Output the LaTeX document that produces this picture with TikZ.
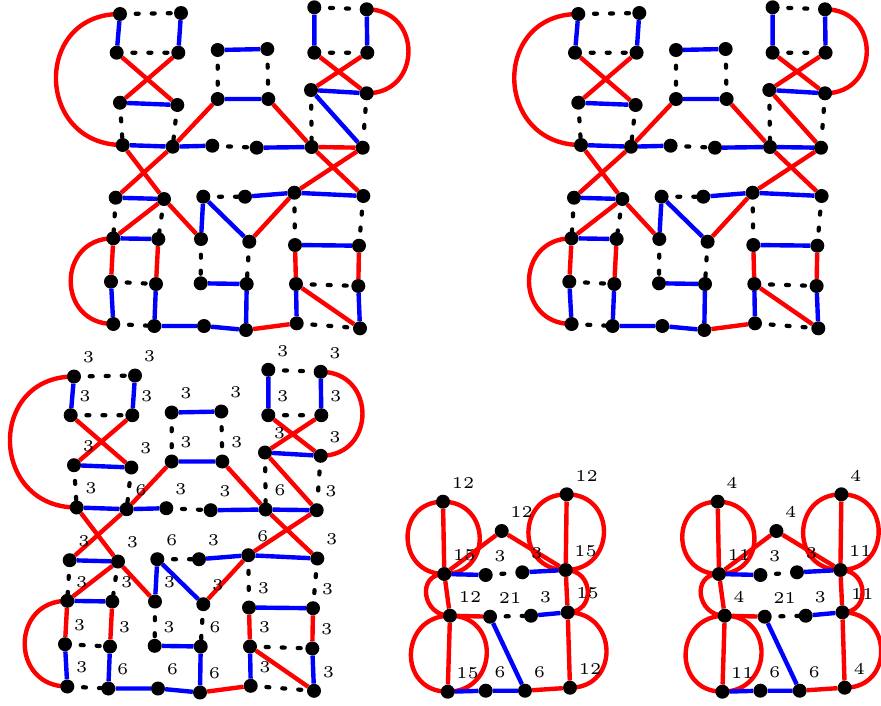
\documentclass[tikz,border=0pt]{standalone}
\usetikzlibrary{backgrounds}
\newcommand\lt[1]{\scalebox{3.3}{\tiny #1}}
\newcommand\bigG[1]{%
\node[vtx,lab=3] (#1A1) at (120,14) {};
\node[vtx,lab=3] (#1A2) at (181,13) {};
\node[vtx,lab=3] (#1A3) at (116.7,52.7) {};
\node[vtx,lab=3] (#1A4) at (178.3,52.7) {};
\node[vtx,lab=3] (#1A5) at (120,102.7) {};
\node[vtx,lab=3] (#1A6) at (177.3,105) {};
\node[vtx,lab=3] (#1A7) at (122.7,145) {};
\node[vtx,lab=6] (#1A8) at (172.7,146.7) {};
\node[vtx,lab=3] (#1A9) at (212.3,145.7) {};
\node[vtx,lab=3] (#1A10) at (256.7,147.7) {};
\node[vtx,lab=6] (#1A11) at (311.7,147) {};
\node[vtx,lab=3] (#1A12) at (362.7,147.7) {};
\node[vtx,lab=3] (#1B1) at (217.7,50) {};
\node[vtx,lab=3] (#1B2) at (267.3,49) {};
\node[vtx,lab=3] (#1B3) at (217.7,99) {};
\node[vtx,lab=3] (#1B4) at (268.3,99) {};
\node[vtx,lab=3] (#1C1) at (314.3,7.3) {};
\node[vtx,lab=3] (#1C2) at (366.7,9.3) {};
\node[vtx,lab=3] (#1C3) at (314.3,52.7) {};
\node[vtx,lab=3] (#1C4) at (367.3,52.7) {};
\node[vtx,lab=3] (#1C5) at (311,90) {};
\node[vtx,lab=3] (#1C6) at (366.7,93.3) {};
\node[vtx,lab=3] (#1D1) at (115.7,197.7) {};
\node[vtx,lab=3] (#1D2) at (164,199) {};
\node[vtx,lab=6] (#1D3) at (203.3,196.7) {};
\node[vtx,lab=3] (#1D4) at (245,196.7) {};
\node[vtx,lab=6] (#1D5) at (294.3,192.7) {};
\node[vtx,lab=3] (#1D6) at (363.3,196) {};
\node[vtx,lab=3] (#1E1) at (113.3,238.3) {};
\node[vtx,lab=3] (#1E2) at (158.3,239) {};
\node[vtx,lab=3] (#1E3) at (201,239) {};
\node[vtx,lab=3] (#1E4) at (249.3,241.7) {};
\node[vtx,lab=3] (#1E5) at (295,245) {};
\node[vtx,lab=3] (#1E6) at (359,245.7) {};
\node[vtx,lab=3] (#1F1) at (111,281.7) {};
\node[vtx,lab=3] (#1F2) at (156,284) {};
\node[vtx,lab=3] (#1F3) at (200.7,283.3) {};
\node[vtx,lab=6] (#1F4) at (246.7,284) {};
\node[vtx,lab=3] (#1F5) at (296,284) {};
\node[vtx,lab=3] (#1F6) at (358.3,286) {};
\node[vtx,lab=3] (#1G1) at (113.3,324) {};
\node[vtx,lab=6] (#1G2) at (154.3,326) {};
\node[vtx,lab=6] (#1G3) at (204,326) {};
\node[vtx,lab=6] (#1G4) at (246,330) {};
\node[vtx,lab=3] (#1G5) at (296.7,323.3) {};
\node[vtx,lab=3] (#1G6) at (360,328.3) {};
\begin{pgfonlayer}{background}
\draw[de] (#1A1)--(#1A2) (#1A3)--(#1A4) (#1A5)--(#1A7) (#1A6)--(#1A8) (#1A9)--(#1A10)
  (#1B1)--(#1B3) (#1B2)--(#1B4) (#1C1)--(#1C2) (#1C3)--(#1C4) (#1C5)--(#1A11) (#1C6)--(#1A12)
  (#1D1)--(#1E1) (#1D2)--(#1E2) (#1D3)--(#1D4) (#1D5)--(#1E5) (#1D6)--(#1E6)
  (#1E3)--(#1F3) (#1E4)--(#1F4) (#1F1)--(#1F2) (#1F5)--(#1F6) (#1G1)--(#1G2) (#1G5)--(#1G6);
\draw[be] (#1A1)--(#1A3) (#1A2)--(#1A4) (#1A5)--(#1A6) (#1A7)--(#1A8) (#1A8)--(#1A9) (#1A10)--(#1A11)
  (#1B1)--(#1B2) (#1B3)--(#1B4) (#1C1)--(#1C3) (#1C2)--(#1C4) (#1C5)--(#1C6)
  (#1D1)--(#1D2) (#1D4)--(#1D5) (#1D5)--(#1D6) (#1D3)--(#1E3) (#1D3)--(#1E4)
  (#1E1)--(#1E2) (#1E5)--(#1E6) (#1F1)--(#1G1) (#1F2)--(#1G2) (#1F3)--(#1F4) (#1F4)--(#1G4)
  (#1F5)--(#1G5) (#1F6)--(#1G6) (#1G2)--(#1G3) (#1G3)--(#1G4);
\draw[re] (#1A3)--(#1A6) (#1A4)--(#1A5) (#1A8)--(#1B3) (#1D1)--(#1A8) (#1A7)--(#1D2) (#1D2)--(#1E3)
  (#1B4)--(#1A11) (#1A11)--(#1D6) (#1C3)--(#1C6) (#1C4)--(#1C5) (#1A12)--(#1D5) (#1D5)--(#1E4)
  (#1D2)--(#1E1) (#1E1)--(#1F1) (#1E2)--(#1F2) (#1E5)--(#1F5) (#1E6)--(#1F6) (#1F5)--(#1G6) (#1G4)--(#1G5);
\draw[re] (#1A1.center) to[out=180,in=180,looseness=1.7] (#1A7.center)
  (#1C2.center) to[out=0,in=0,looseness=1.7] (#1C6.center)
  (#1E1.center) to[out=180,in=180,looseness=1.7] (#1G1.center);
\end{pgfonlayer}}
\newcommand\smallE[1]{%
\begin{pgfonlayer}{background}
\draw[re] (#1H1)--(#1H4) (#1H2)--(#1H4) (#1H2)--(#1H7) (#1H3)--(#1H7) (#1H4)--(#1H8) (#1H7)--(#1H11)
  (#1H8)--(#1H9) (#1H8)--(#1H12) (#1H11)--(#1H15) (#1H14)--(#1H15);
\draw[re] (#1H1.center) to[out=180,in=180,looseness=1.7] (#1H4.center)
  (#1H1.center) to[out=0,in=0,looseness=1.7] (#1H4.center)
  (#1H3.center) to[out=180,in=180,looseness=1.7] (#1H7.center)
  (#1H3.center) to[out=0,in=0,looseness=1.7] (#1H7.center)
  (#1H4.center) to[out=180,in=180,looseness=1.7] (#1H8.center)
  (#1H7.center) to[out=0,in=0,looseness=1.7] (#1H11.center)
  (#1H8.center) to[out=180,in=180,looseness=1.7] (#1H12.center)
  (#1H8.center) to[out=0,in=0,looseness=1.7] (#1H12.center)
  (#1H11.center) to[out=0,in=0,looseness=1.7] (#1H15.center);
\draw[be] (#1H4)--(#1H5) (#1H6)--(#1H7) (#1H10)--(#1H11) (#1H9)--(#1H14) (#1H12)--(#1H13) (#1H13)--(#1H14);
\draw[de] (#1H5)--(#1H6) (#1H9)--(#1H10);
\end{pgfonlayer}}
\begin{document}
\begin{tikzpicture}[x=1pt,y=-1pt,
  vtx/.style={circle,fill=black,inner sep=0pt,minimum size=14pt},
  re/.style={draw=red,line width=4.4pt},
  be/.style={draw=blue,line width=4.4pt},
  de/.style={draw=black,line width=4.2pt,line cap=round,dash pattern=on 3pt off 13pt,dash phase=7.5pt},
  label distance=0pt,
  lbl/.style={inner sep=0pt,xshift=3.5pt,yshift=8pt},
  lab/.style={},
  slab/.style={label={[lbl]above right:\lt{#1}}}]
\useasboundingbox (0,0) rectangle (881,705);
\begin{pgfonlayer}{background}
\fill[white] (0,0) rectangle (881,705);
\end{pgfonlayer}
% top left
\bigG{}
\begin{pgfonlayer}{background}
\draw[re] (A11)--(A12);
\draw[be] (C5)--(A12);
\end{pgfonlayer}
% top right
\begin{scope}[shift={(458.3,0)}]
\bigG{R}
\begin{pgfonlayer}{background}
\draw[be] (RA11)--(RA12);
\draw[re] (RC5)--(RA12);
\end{pgfonlayer}
\end{scope}
% bottom left
\begin{scope}[shift={(-46,362.5)},lab/.style={slab=#1}]
\bigG{L}
\begin{pgfonlayer}{background}
\draw[be] (LA11)--(LA12);
\draw[re] (LC5)--(LA12);
\end{pgfonlayer}
\end{scope}
% bottom middle
\node[vtx,slab=12] (H1) at (443,501.7) {};
\node[vtx,slab=12] (H2) at (501.7,531) {};
\node[vtx,slab=12] (H3) at (566.7,494.3) {};
\node[vtx,slab=15] (H4) at (444.3,574) {};
\node[vtx,slab=3] (H5) at (485.7,575) {};
\node[vtx,slab=3] (H6) at (522.3,572.3) {};
\node[vtx,slab=15] (H7) at (565.7,570) {};
\node[vtx,slab=12] (H8) at (450,615.7) {};
\node[vtx,slab=21] (H9) at (490,616.7) {};
\node[vtx,slab=3] (H10) at (531,615.7) {};
\node[vtx,slab=15] (H11) at (567.7,612.3) {};
\node[vtx,slab=15] (H12) at (447.7,691.7) {};
\node[vtx,slab=6] (H13) at (485.7,690.7) {};
\node[vtx,slab=6] (H14) at (525,690.7) {};
\node[vtx,slab=12] (H15) at (570,687.7) {};
\smallE{}
% bottom right
\begin{scope}[shift={(274.7,0)}]
\node[vtx,slab=4] (IH1) at (443,501.7) {};
\node[vtx,slab=4] (IH2) at (501.7,531) {};
\node[vtx,slab=4] (IH3) at (566.7,494.3) {};
\node[vtx,slab=11] (IH4) at (444.3,574) {};
\node[vtx,slab=3] (IH5) at (485.7,575) {};
\node[vtx,slab=3] (IH6) at (522.3,572.3) {};
\node[vtx,slab=11] (IH7) at (565.7,570) {};
\node[vtx,slab=4] (IH8) at (450,615.7) {};
\node[vtx,slab=21] (IH9) at (490,616.7) {};
\node[vtx,slab=3] (IH10) at (531,615.7) {};
\node[vtx,slab=11] (IH11) at (567.7,612.3) {};
\node[vtx,slab=11] (IH12) at (447.7,691.7) {};
\node[vtx,slab=6] (IH13) at (485.7,690.7) {};
\node[vtx,slab=6] (IH14) at (525,690.7) {};
\node[vtx,slab=4] (IH15) at (570,687.7) {};
\smallE{I}
\end{scope}
\end{tikzpicture}
\end{document}
